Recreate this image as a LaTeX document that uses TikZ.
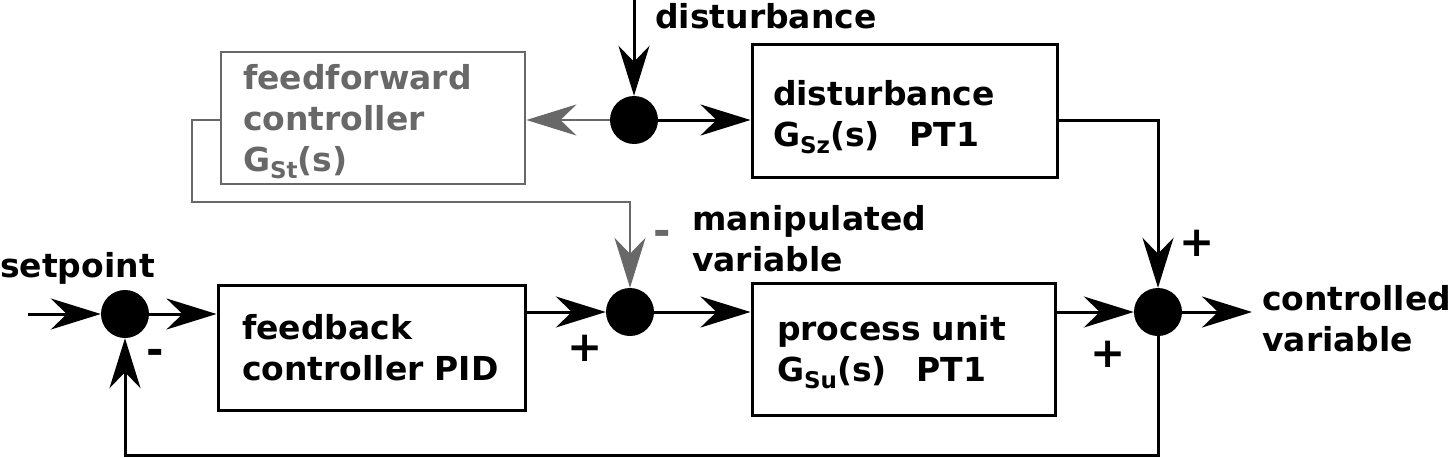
\documentclass[tikz,border=0pt]{standalone}
\usepackage{fontspec}
\setmainfont{DejaVu Sans}
\usetikzlibrary{arrows.meta}
\definecolor{ffgray}{HTML}{686868}
\newcommand{\subx}[1]{\raisebox{-0.22em}{\fontsize{23}{23}\selectfont #1}}
\newcommand{\topstrut}[1]{\rule{0pt}{#1}}
\begin{document}
\begin{tikzpicture}[x=1pt,y=-1pt,
  every node/.style={font=\fontsize{33}{41}\selectfont\bfseries},
  arr/.style={line width=3pt,-{Stealth[length=50pt,width=31pt,inset=16pt]}},
  garr/.style={line width=2.8pt,draw=ffgray,-{Stealth[length=50pt,width=31pt,inset=16pt,fill=ffgray]}},
  blockbox/.style n args={3}{draw,line width=3pt,minimum width=#1,minimum height=#2,
     inner xsep=#3,inner ysep=0pt,text width=#1-2*#3,align=left},
  sumpt/.style={circle,fill=black,minimum size=48pt,inner sep=0pt},
  sign/.style={font=\fontsize{42}{42}\selectfont\bfseries,inner sep=0pt}]
\useasboundingbox (0,0) rectangle (1449,458);

% sum points
\node[sumpt] (c1) at (125,314) {};
\node[sumpt] (c2) at (630,312) {};
\node[sumpt] (c3) at (1158,312) {};
\node[sumpt] (dc) at (634,120) {};

% blocks
\node[blockbox={307pt}{125pt}{24pt}] (fb) at (371.5,347.5) {feedback\\controller PID};
\node[blockbox={303pt}{132pt}{25pt}] (pu) at (903.5,349) {\topstrut{31pt}process unit\\G\subx{Su}(s)\hspace{0.9em}PT1};
\node[blockbox={305pt}{133pt}{21pt}] (db) at (904.5,110.5) {\topstrut{39pt}disturbance\\G\subx{Sz}(s)\hspace{0.9em}PT1};
\node[blockbox={304pt}{132pt}{22pt},draw=ffgray,text=ffgray,line width=2.8pt] (ff) at (373,118) {\topstrut{33pt}feedforward\\controller\\G\subx{St}(s)};

% free ends
\coordinate (in) at (28,314);
\coordinate (dtop) at (634,0);
\coordinate (out) at (1252,312);
\coordinate (fbk) at (1158,455);
\coordinate (gk) at (192,202);

% connectors
\draw[arr] (in) -- (c1);
\draw[arr] (c1) -- (c1 -| fb.west);
\draw[arr] (fb.east |- c2) -- (c2);
\draw[arr] (c2) -- (c2 -| pu.west);
\draw[arr] (pu.east |- c3) -- (c3);
\draw[arr] (c3) -- (out);
\draw[arr] (c3.south) -- (fbk) -| (c1);
\draw[arr] (dtop) -- (dc);
\draw[arr] (dc) -- (dc -| db.west);
\draw[arr] (db.east |- dc) -| (c3);
\draw[garr] (dc) -- (dc -| ff.east);
\draw[garr] (ff.west |- dc) -| (gk) -| (c2);

% labels
\node[anchor=base west,inner sep=0pt] (lsp) at (0,277) {setpoint};
\node[anchor=base west,inner sep=0pt] (ldist) at (655,28) {disturbance};
\node[anchor=base west,inner sep=0pt,align=left] (lman) at (692,271) {manipulated\\variable};
\node[anchor=base west,inner sep=0pt,align=left] (lcv) at (1262,351) {controlled\\variable};

% signs
\node[sign] (s1) at (155,357) {-};
\node[sign] (s2) at (585,348) {+};
\node[sign,text=ffgray] (s3) at (662,238) {-};
\node[sign] (s4) at (1108,354) {+};
\node[sign] (s5) at (1197,243) {+};
\end{tikzpicture}
\end{document}
